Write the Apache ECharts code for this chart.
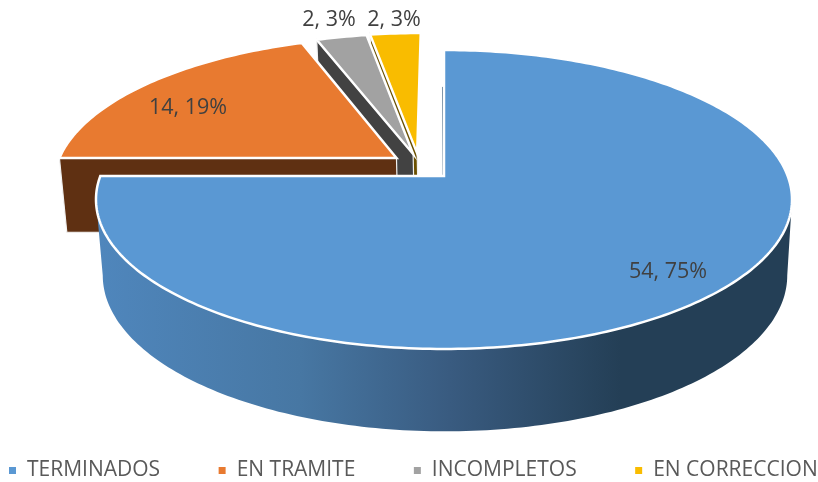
<!DOCTYPE html>
<html>
<head>
<meta charset="utf-8">
<style>
  html,body{margin:0;padding:0;background:#fff}
  #chart{width:818px;height:482px}
</style>
</head>
<body>
<div id="chart"></div>
<script src="https://cdn.jsdelivr.net/npm/echarts@6/dist/echarts.min.js"></script>
<script>
const categories = ['TERMINADOS', 'EN TRAMITE', 'INCOMPLETOS', 'EN CORRECCION']
const values = [54, 14, 2, 2]

// colores y posicion de cada sector
const topColors = ['#5A98D3', '#E87A30', '#A2A2A2', '#F9BC00']
const wallColors = [null, '#5F3012', '#424242', '#6B5000']
const explode = [[0, 0], [-0.141, -0.1257], [-0.092, -0.155], [-0.08, -0.159]]
const labelPos = [[668, 272], [188, 108], [329, 20], [394, 20]]

// plano de la cara superior e inferior del pastel (perspectiva)
const K = 0.157
const upper = {x: 444, y: 176, bx: 343.7, by: 145.8}
const lower = {x: 445, y: 251, bx: 338, by: 152}

const total = values.reduce((a, b) => a + b, 0)

function project(plane, u, v) {
  const d = 1 - K * v
  return [plane.x + plane.bx * u / d, plane.y + plane.by * v / d]
}

// angulo en grados, desde las 12 en sentido horario
function rimPoint(plane, off, deg) {
  const a = deg * Math.PI / 180
  return project(plane, off[0] + Math.sin(a), off[1] - Math.cos(a))
}

function arc(plane, off, from, to) {
  const pts = []
  const n = Math.max(2, Math.ceil(Math.abs(to - from)))
  for (let i = 0; i <= n; i++) {
    pts.push(rimPoint(plane, off, from + (to - from) * i / n))
  }
  return pts
}

function renderSlice(index, value) {
  const start = values.slice(0, index).reduce((a, b) => a + b, 0) / total * 360
  const end = start + value / total * 360
  const off = explode[index]
  const children = []

  if (index === 0) {
    // pared exterior curva, solo la parte visible
    const from = Math.max(start, Math.acos(-K) * 180 / Math.PI)
    const to = Math.min(end, 360 - Math.acos(-K) * 180 / Math.PI)
    const wall = arc(upper, off, from, to).concat(arc(lower, off, to, from))
    children.push({
      type: 'polygon',
      shape: {points: wall},
      style: {
        fill: new echarts.graphic.LinearGradient(100, 0, 790, 0, [
          {offset: 0, color: '#4F86BC'},
          {offset: 0.29, color: '#4777A3'},
          {offset: 0.507, color: '#395B80'},
          {offset: 0.754, color: '#243F56'},
          {offset: 1, color: '#243F56'}
        ], true)
      }
    })
    // borde interior que casi no se ve junto a las 12
    const s1 = project(lower, -0.009, -1.3)
    const s2 = project(lower, -0.006, -0.5)
    children.push({
      type: 'line',
      shape: {x1: s1[0], y1: s1[1], x2: s2[0], y2: s2[1]},
      style: {stroke: '#54728C', lineWidth: 1}
    })
  } else {
    // cara del corte que mira hacia el frente
    const wall = [
      project(upper, off[0], off[1]),
      rimPoint(upper, off, start),
      rimPoint(lower, off, start),
      project(lower, off[0], off[1])
    ]
    children.push({
      type: 'polygon',
      shape: {points: wall},
      style: {fill: wallColors[index], stroke: '#F2F2F2', lineWidth: 1.2}
    })
  }

  const face = [project(upper, off[0], off[1])].concat(arc(upper, off, start, end))
  children.push({
    type: 'polygon',
    shape: {points: face},
    style: {fill: topColors[index], stroke: '#fff', lineWidth: 2.5, lineJoin: 'miter'}
  })

  const pct = Math.round(value / total * 100)
  children.push({
    type: 'text',
    style: {
      text: value + ', ' + pct + '%',
      x: labelPos[index][0],
      y: labelPos[index][1],
      align: 'center',
      verticalAlign: 'middle',
      fill: '#404040',
      font: '21.5px "Open Sans"'
    }
  })
  return {type: 'group', children: children}
}

const chartInstance = echarts.init(document.getElementById('chart'))
chartInstance.setOption({
  animation: false,
  color: topColors,
  legend: {
    data: categories,
    left: 9,
    top: 460,
    padding: 0,
    icon: 'rect',
    itemWidth: 7,
    itemHeight: 7,
    itemGap: 58.5,
    selectedMode: false,
    textStyle: {
      color: '#595959',
      fontFamily: 'Open Sans',
      fontSize: 21,
      padding: [0, 0, 0, 6]
    }
  },
  series: categories.map((name, i) => ({
    type: 'custom',
    name: name,
    coordinateSystem: 'none',
    z: 2 + categories.length - i,
    silent: true,
    data: [values[i]],
    renderItem: (params, api) => renderSlice(i, api.value(0))
  }))
})
</script>
</body>
</html>
